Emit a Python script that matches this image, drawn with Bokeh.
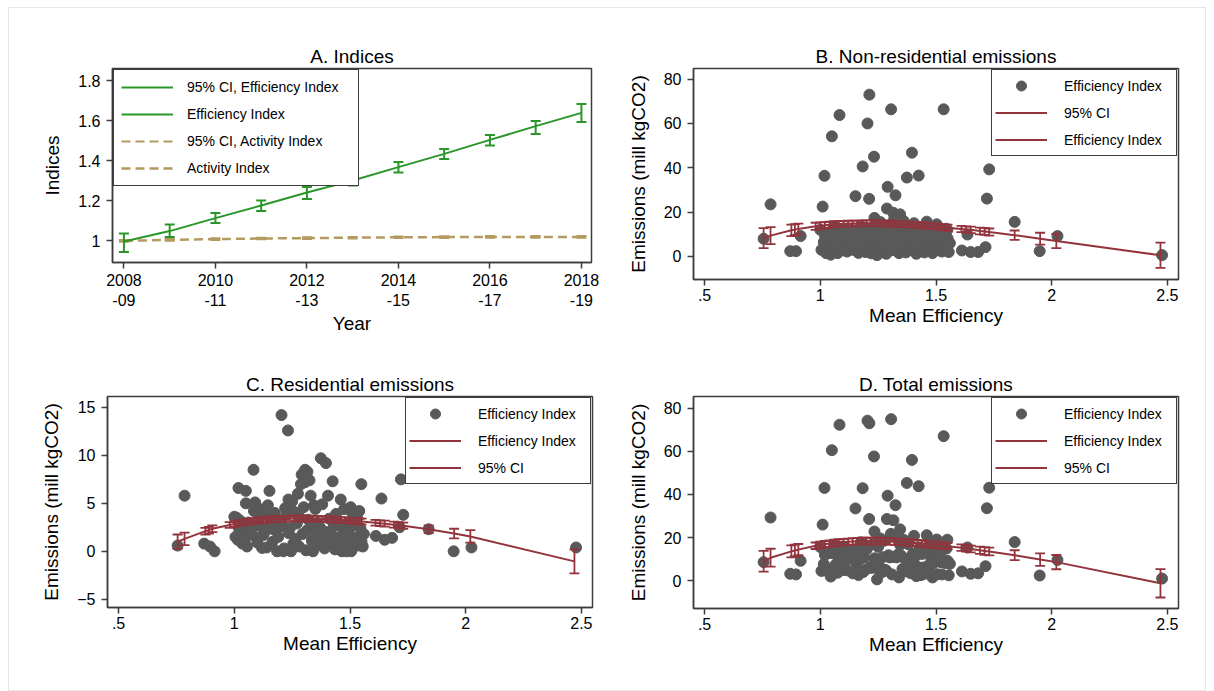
from bokeh.plotting import figure
from bokeh.layouts import column, row
from bokeh.models import Legend, LegendItem, FixedTicker, ColumnDataSource, Range1d
from bokeh.embed import file_html
from bokeh.resources import INLINE

# ---------------- data: panel A ----------------
years = [2008, 2009, 2010, 2011, 2012, 2013, 2014, 2015, 2016, 2017, 2018]
year_ticks = [2008, 2010, 2012, 2014, 2016, 2018]
year_tick_labels = ["2008\n-09", "2010\n-11", "2012\n-13", "2014\n-15", "2016\n-17", "2018\n-19"]
eff_index = [0.995, 1.047, 1.112, 1.175, 1.240, 1.300, 1.367, 1.433, 1.503, 1.572, 1.638]
eff_lo = [0.942, 1.017, 1.087, 1.147, 1.208, 1.275, 1.340, 1.408, 1.475, 1.533, 1.592]
eff_hi = [1.035, 1.080, 1.137, 1.200, 1.267, 1.325, 1.393, 1.457, 1.527, 1.598, 1.683]
act_index = [0.998, 1.003, 1.007, 1.010, 1.012, 1.014, 1.016, 1.017, 1.018, 1.018, 1.018]
act_lo = [0.994, 0.999, 1.003, 1.006, 1.008, 1.010, 1.012, 1.013, 1.014, 1.014, 1.014]
act_hi = [1.002, 1.007, 1.011, 1.014, 1.016, 1.018, 1.020, 1.021, 1.022, 1.022, 1.022]
a_yticks = [1, 1.2, 1.4, 1.6, 1.8]
a_ytick_labels = ["1", "1.2", "1.4", "1.6", "1.8"]

# ---------------- data: panels B, C, D (scatter) ----------------
mean_eff = [0.755, 0.785, 0.870, 0.895, 0.915, 1.010, 1.018, 1.050, 1.083, 1.212,
            1.204, 1.232, 1.183, 1.152, 1.211, 1.306, 1.291, 1.325, 1.396, 1.374,
            1.425, 1.533, 1.730, 1.720, 1.840, 1.948, 2.025, 2.477, 1.636, 1.612,
            1.650, 1.682, 1.714, 1.234, 1.288, 1.316, 1.345, 1.460, 1.503, 1.549,
            1.120, 1.000, 1.005, 1.015, 1.020, 1.025, 1.035, 1.040, 1.045, 1.050,
            1.055, 1.060, 1.065, 1.070, 1.075, 1.085, 1.090, 1.095, 1.100, 1.105,
            1.110, 1.115, 1.125, 1.130, 1.135, 1.140, 1.145, 1.155, 1.160, 1.165,
            1.170, 1.175, 1.185, 1.190, 1.195, 1.200, 1.215, 1.220, 1.225, 1.235,
            1.240, 1.245, 1.250, 1.255, 1.260, 1.265, 1.270, 1.275, 1.280, 1.285,
            1.295, 1.300, 1.305, 1.310, 1.315, 1.320, 1.330, 1.335, 1.340, 1.345,
            1.350, 1.355, 1.360, 1.365, 1.370, 1.380, 1.385, 1.390, 1.400, 1.405,
            1.410, 1.415, 1.420, 1.430, 1.435, 1.440, 1.445, 1.450, 1.455, 1.465,
            1.470, 1.475, 1.480, 1.485, 1.490, 1.495, 1.500, 1.505, 1.510, 1.515,
            1.520, 1.525, 1.530, 1.535, 1.540, 1.545, 1.550, 1.555, 1.560]
nonres_em = [8.0, 23.5, 2.4, 2.4, 9.2, 22.5, 36.4, 54.2, 63.8, 73.0,
             60.0, 45.0, 40.6, 27.2, 26.0, 66.4, 31.4, 27.6, 46.8, 35.6,
             36.5, 66.4, 39.3, 26.1, 15.6, 2.4, 9.2, 0.6, 9.9, 2.7,
             2.0, 2.0, 4.2, 17.4, 21.6, 19.7, 19.0, 15.7, 14.5, 12.0,
             10.0, 12.0, 3.0, 6.5, 9.5, 1.5, 4.5, 11.0, 0.8, 7.8,
             2.8, 13.5, 5.5, 9.0, 1.5, 11.5, 6.0, 3.5, 8.5, 12.5,
             4.8, 2.2, 9.8, 6.8, 12.0, 3.0, 8.2, 5.0, 10.8, 1.6,
             7.5, 13.8, 4.0, 9.2, 2.0, 11.8, 6.0, 1.4, 13.0, 8.5,
             3.5, 0.6, 10.5, 5.8, 15.5, 2.5, 8.0, 12.5, 4.5, 1.2,
             10.0, 6.2, 14.5, 2.8, 8.8, 17.5, 5.0, 11.0, 1.5, 14.0,
             7.2, 3.8, 16.0, 9.5, 1.8, 12.0, 6.5, 3.2, 10.5, 15.0,
             7.8, 1.2, 4.8, 12.8, 2.4, 8.5, 5.5, 1.8, 11.0, 6.8,
             3.5, 13.5, 9.0, 1.5, 5.2, 11.8, 7.5, 3.0, 13.0, 9.5,
             5.8, 2.2, 10.8, 7.0, 4.0, 12.5, 8.2, 2.0, 6.0]
res_em = [0.6, 5.8, 0.8, 0.5, 0.0, 3.5, 6.6, 6.3, 8.5, 0.0,
          14.2, 12.6, 2.3, 6.3, 2.6, 8.5, 8.0, 7.4, 9.2, 9.7,
          7.3, 0.6, 3.8, 7.5, 2.3, 0.0, 0.4, 0.4, 5.5, 1.6,
          1.2, 1.4, 2.5, 5.4, 7.0, 8.3, 4.8, 5.4, 4.6, 7.0,
          0.35, 3.6, 1.5, 1.2, 2.4, 3.2, 0.8, 2.0, 1.1, 5.0,
          0.5, 3.0, 1.8, 2.8, 2.2, 4.2, 5.1, 1.4, 0.9, 3.3,
          4.4, 2.6, 1.7, 3.9, 2.1, 0.4, 4.8, 2.9, 3.6, 1.0,
          2.3, 4.0, 0.0, 1.5, 3.1, 2.7, 0.3, 4.5, 3.8, 1.9,
          2.4, 0.0, 5.2, 0.8, 4.1, 1.3, 2.9, 6.0, 0.5, 3.5,
          1.8, 4.6, 7.2, 0.1, 2.2, 3.3, 5.8, 1.1, 0.0, 2.6,
          4.4, 1.6, 3.0, 0.7, 2.5, 4.9, 1.2, 0.3, 2.0, 5.8,
          3.4, 0.9, 1.7, 2.6, 0.2, 3.9, 0.6, 1.4, 2.9, 0.0,
          2.3, 4.4, 1.0, 0.0, 3.0, 1.9, 2.5, 0.0, 4.0, 1.2,
          2.8, 0.7, 3.5, 1.5, 4.2, 2.4, 1.0, 0.5, 1.8]
total_em = [8.6, 29.3, 3.2, 2.9, 9.2, 26.0, 43.0, 60.5, 72.3, 73.0,
            74.2, 57.6, 42.9, 33.5, 28.6, 74.9, 39.4, 35.0, 56.0, 45.3,
            43.8, 67.0, 43.1, 33.6, 17.9, 2.4, 9.6, 1.0, 15.4, 4.3,
            3.2, 3.4, 6.7, 22.8, 28.6, 28.0, 23.8, 21.1, 19.1, 19.0,
            10.4, 15.6, 4.5, 7.7, 11.9, 4.7, 5.3, 13.0, 1.9, 12.8,
            3.3, 16.5, 7.3, 11.8, 3.7, 15.7, 11.1, 4.9, 9.4, 15.8,
            9.2, 4.8, 11.5, 10.7, 14.1, 3.4, 13.0, 7.9, 14.4, 2.6,
            9.8, 17.8, 4.0, 10.7, 5.1, 14.5, 6.3, 5.9, 16.8, 10.4,
            5.9, 0.6, 15.7, 6.6, 19.6, 3.8, 10.9, 18.5, 5.0, 4.7,
            11.8, 10.8, 21.7, 2.9, 11.0, 20.8, 10.8, 12.1, 1.5, 16.6,
            11.6, 5.4, 19.0, 10.2, 4.3, 16.9, 7.7, 3.5, 12.5, 20.8,
            11.2, 2.1, 6.5, 15.4, 2.6, 12.4, 6.1, 3.2, 13.9, 6.8,
            5.8, 17.9, 10.0, 1.5, 8.2, 13.7, 10.0, 3.0, 17.0, 10.7,
            8.6, 2.9, 14.3, 8.5, 8.2, 14.9, 9.2, 2.5, 7.8]

# ---------------- data: fitted values with 95% CI ----------------
fit_x = [0.755, 0.785, 0.875, 0.89, 0.905, 0.98,
         1.0, 1.02, 1.04, 1.06, 1.08, 1.1, 1.12, 1.14, 1.16, 1.18, 1.2, 1.22, 1.24, 1.26,
         1.28, 1.3, 1.32, 1.34, 1.36, 1.38, 1.4, 1.42, 1.44, 1.46, 1.48, 1.5, 1.52, 1.54,
         1.55, 1.61, 1.63, 1.65, 1.69, 1.71, 1.73, 1.84, 1.95, 2.02, 2.47]
fit_nonres = [8.3, 9.4, 11.8, 12.1, 12.4, 13.6,
              13.9, 14.1, 14.3, 14.5, 14.6, 14.7, 14.8, 14.9, 14.9, 15.0, 15.0, 15.0, 15.0, 14.9,
              14.9, 14.8, 14.7, 14.6, 14.5, 14.4, 14.3, 14.2, 14.0, 13.9, 13.7, 13.5, 13.3, 13.1,
              13.0, 12.4, 12.2, 12.0, 11.5, 11.3, 11.0, 9.6, 8.0, 7.0, 0.5]
nonres_lo = [3.8, 5.6, 9.2, 9.6, 10.0, 12.0,
             12.4, 12.7, 12.9, 13.1, 13.3, 13.4, 13.5, 13.6, 13.6, 13.7, 13.7, 13.7, 13.7, 13.6,
             13.6, 13.5, 13.4, 13.3, 13.2, 13.1, 13.0, 12.9, 12.7, 12.6, 12.4, 12.2, 12.0, 11.8,
             11.6, 11.0, 10.8, 10.5, 10.0, 9.7, 9.4, 7.5, 5.3, 3.8, -5.2]
nonres_hi = [12.8, 13.2, 14.4, 14.6, 14.8, 15.2,
             15.4, 15.5, 15.7, 15.9, 15.9, 16.0, 16.1, 16.2, 16.2, 16.3, 16.3, 16.3, 16.3, 16.2,
             16.2, 16.1, 16.0, 15.9, 15.8, 15.7, 15.6, 15.5, 15.3, 15.2, 15.0, 14.8, 14.6, 14.4,
             14.4, 13.8, 13.6, 13.5, 13.0, 12.9, 12.6, 11.7, 10.7, 10.2, 6.2]
fit_res = [1.0, 1.3, 2.1, 2.2, 2.35, 2.75,
           2.85, 2.95, 3.0, 3.08, 3.15, 3.2, 3.25, 3.3, 3.33, 3.36, 3.38, 3.4, 3.41, 3.42,
           3.42, 3.42, 3.41, 3.4, 3.39, 3.37, 3.35, 3.33, 3.3, 3.27, 3.24, 3.2, 3.16, 3.12,
           3.1, 2.98, 2.93, 2.88, 2.78, 2.72, 2.67, 2.3, 1.85, 1.55, -1.05]
res_lo = [0.25, 0.65, 1.75, 1.85, 2.0, 2.45,
          2.55, 2.65, 2.7, 2.78, 2.85, 2.9, 2.95, 3.0, 3.03, 3.06, 3.08, 3.1, 3.11, 3.12,
          3.12, 3.12, 3.11, 3.1, 3.09, 3.07, 3.05, 3.03, 3.0, 2.97, 2.94, 2.9, 2.86, 2.82,
          2.8, 2.68, 2.63, 2.57, 2.46, 2.4, 2.35, 1.9, 1.35, 0.9, -2.3]
res_hi = [1.75, 1.95, 2.45, 2.55, 2.7, 3.05,
          3.15, 3.25, 3.3, 3.38, 3.45, 3.5, 3.55, 3.6, 3.63, 3.66, 3.68, 3.7, 3.71, 3.72,
          3.72, 3.72, 3.71, 3.7, 3.69, 3.67, 3.65, 3.63, 3.6, 3.57, 3.54, 3.5, 3.46, 3.42,
          3.4, 3.28, 3.23, 3.19, 3.1, 3.04, 2.99, 2.7, 2.35, 2.2, 0.2]
fit_total = [9.0, 10.6, 13.6, 14.0, 14.4, 16.2,
             16.6, 16.9, 17.2, 17.5, 17.7, 17.9, 18.0, 18.2, 18.3, 18.4, 18.4, 18.4, 18.4, 18.4,
             18.3, 18.2, 18.1, 18.0, 17.9, 17.7, 17.6, 17.4, 17.2, 17.0, 16.8, 16.6, 16.4, 16.1,
             16.0, 15.3, 15.0, 14.7, 14.1, 13.8, 13.5, 11.8, 9.8, 8.6, -1.2]
total_lo = [4.2, 6.5, 10.8, 11.3, 11.8, 14.7,
            15.1, 15.4, 15.7, 16.0, 16.2, 16.4, 16.5, 16.7, 16.8, 16.9, 16.9, 16.9, 16.9, 16.9,
            16.8, 16.7, 16.6, 16.5, 16.4, 16.2, 16.1, 15.9, 15.7, 15.5, 15.3, 15.1, 14.9, 14.6,
            14.5, 13.8, 13.5, 13.1, 12.4, 12.0, 11.7, 9.5, 6.9, 5.3, -7.8]
total_hi = [13.8, 14.8, 16.4, 16.7, 17.0, 17.7,
            18.1, 18.4, 18.7, 19.0, 19.2, 19.4, 19.5, 19.7, 19.8, 19.9, 19.9, 19.9, 19.9, 19.9,
            19.8, 19.7, 19.6, 19.5, 19.4, 19.2, 19.1, 18.9, 18.7, 18.5, 18.3, 18.1, 17.9, 17.6,
            17.5, 16.8, 16.5, 16.3, 15.8, 15.6, 15.3, 14.1, 12.7, 11.9, 5.4]

eff_xticks = [0.5, 1, 1.5, 2, 2.5]
eff_xtick_labels = [".5", "1", "1.5", "2", "2.5"]
em_yticks = [0, 20, 40, 60, 80]
res_yticks = [-5, 0, 5, 10, 15]

# ---------------- styling ----------------
FONT = "Liberation Sans"
AXC = "#3c3c3c"
GREEN = "#2a962a"
KHAKI = "#b39b60"
RED = "#93343d"
GRAY = "#595959"


def base_fig(title, fw, fh, bl, br, bt, bb, xr, yr, xlabel, ylabel):
    p = figure(frame_width=fw, frame_height=fh, min_border_left=bl, min_border_right=br,
               min_border_top=bt, min_border_bottom=bb,
               x_range=Range1d(*xr), y_range=Range1d(*yr),
               output_backend="svg", toolbar_location=None, title=title,
               x_axis_label=xlabel, y_axis_label=ylabel)
    p.title.text_font = FONT
    p.title.text_font_size = "19px"
    p.title.text_font_style = "normal"
    p.title.text_color = "black"
    p.title.align = "center"
    p.title.standoff = 3
    p.outline_line_color = AXC
    p.outline_line_width = 1.5
    p.outline_line_alpha = 1.0
    p.xgrid.visible = False
    p.ygrid.visible = False
    p.background_fill_color = "white"
    p.border_fill_color = "white"
    for ax in (p.xaxis[0], p.yaxis[0]):
        ax.axis_line_color = AXC
        ax.axis_line_width = 1.5
        ax.major_tick_line_color = AXC
        ax.major_tick_line_width = 1.5
        ax.major_tick_out = 6
        ax.major_tick_in = 0
        ax.minor_tick_line_color = None
        ax.major_label_text_font = FONT
        ax.major_label_text_font_size = "16px"
        ax.major_label_text_color = "black"
        ax.axis_label_text_font = FONT
        ax.axis_label_text_font_size = "19px"
        ax.axis_label_text_font_style = "normal"
        ax.axis_label_text_color = "black"
    p.xaxis[0].major_label_standoff = 3
    p.xaxis[0].axis_label_standoff = 1
    p.yaxis[0].major_label_standoff = 6
    p.yaxis[0].axis_label_standoff = 12
    return p


def add_legend(p, items, location, padding, glyph_h, spacing, standoff, label_w):
    leg = Legend(items=items, location=location, margin=1, padding=padding, spacing=spacing,
                 glyph_width=52, glyph_height=glyph_h, label_height=glyph_h,
                 label_standoff=standoff, label_width=label_w,
                 label_text_font=FONT, label_text_font_size="14px", label_text_color="black",
                 border_line_color=AXC, border_line_width=1.2, border_line_alpha=1.0,
                 background_fill_color="white", background_fill_alpha=1.0)
    p.add_layout(leg)


# ---------------- panel A ----------------
pA = base_fig("A. Indices", 479, 194, 103, 22, 59, 79, (2007.75, 2018.22), (0.89, 1.86),
              "Year", "Indices")
srcA = ColumnDataSource(dict(year=years, eff=eff_index, eff_lo=eff_lo, eff_hi=eff_hi,
                             act=act_index, act_lo=act_lo, act_hi=act_hi))
act_line = pA.line("year", "act", source=srcA, line_color=KHAKI, line_width=2.5, line_dash="9 5")
act_ci = pA.segment("year", "act_lo", "year", "act_hi", source=srcA, line_color=KHAKI,
                    line_width=2, line_dash="9 5")
pA.scatter("year", "act_lo", source=srcA, marker="dash", size=10, line_color=KHAKI, line_width=2)
pA.scatter("year", "act_hi", source=srcA, marker="dash", size=10, line_color=KHAKI, line_width=2)
eff_line = pA.line("year", "eff", source=srcA, line_color=GREEN, line_width=2)
eff_ci = pA.segment("year", "eff_lo", "year", "eff_hi", source=srcA, line_color=GREEN, line_width=2)
pA.scatter("year", "eff_lo", source=srcA, marker="dash", size=10, line_color=GREEN, line_width=2)
pA.scatter("year", "eff_hi", source=srcA, marker="dash", size=10, line_color=GREEN, line_width=2)
pA.xaxis[0].ticker = FixedTicker(ticks=year_ticks)
pA.xaxis[0].major_label_overrides = dict(zip(year_ticks, year_tick_labels))
pA.yaxis[0].ticker = FixedTicker(ticks=a_yticks)
pA.yaxis[0].major_label_overrides = dict(zip(a_yticks, a_ytick_labels))
add_legend(pA, [LegendItem(label="95% CI, Efficiency Index", renderers=[eff_ci]),
                LegendItem(label="Efficiency Index", renderers=[eff_line]),
                LegendItem(label="95% CI, Activity Index", renderers=[act_ci]),
                LegendItem(label="Activity Index", renderers=[act_line])],
           "top_left", 7, 20, 7, 14, 164)


# ---------------- panels B, C, D ----------------
def emission_panel(title, bl, br, bt, bh, bb, yr, yvals, fit, lo, hi, yticks, labels):
    p = base_fig(title, 485, bh, bl, br, bt, bb, (0.452, 2.548), yr,
                 "Mean Efficiency", "Emissions (mill kgCO2)")
    src = ColumnDataSource(dict(x=mean_eff, y=yvals))
    fsrc = ColumnDataSource(dict(x=fit_x, fit=fit, lo=lo, hi=hi))
    sc = p.scatter("x", "y", source=src, size=11, fill_color=GRAY, line_color=GRAY)
    fl = p.line("x", "fit", source=fsrc, line_color=RED, line_width=2)
    ci = p.segment("x", "lo", "x", "hi", source=fsrc, line_color=RED, line_width=1.8)
    p.scatter("x", "lo", source=fsrc, marker="dash", size=10, line_color=RED, line_width=1.8)
    p.scatter("x", "hi", source=fsrc, marker="dash", size=10, line_color=RED, line_width=1.8)
    p.xaxis[0].ticker = FixedTicker(ticks=eff_xticks)
    p.xaxis[0].major_label_overrides = dict(zip(eff_xticks, eff_xtick_labels))
    p.yaxis[0].ticker = FixedTicker(ticks=yticks)
    rends = {"scatter": sc, "ci": ci, "line": fl}
    items = [LegendItem(label=lab, renderers=[rends[k]]) for k, lab in labels]
    add_legend(p, items, "top_right", 3, 25, 2, 17, 109)
    return p


pB = emission_panel("B. Non-residential emissions", 80, 27, 60, 211, 61, (-10.4, 84.8),
                    nonres_em, fit_nonres, nonres_lo, nonres_hi, em_yticks,
                    [("scatter", "Efficiency Index"), ("ci", "95% CI"), ("line", "Efficiency Index")])
pC = emission_panel("C. Residential emissions", 98, 21, 56, 211, 83, (-5.86, 16.14),
                    res_em, fit_res, res_lo, res_hi, res_yticks,
                    [("scatter", "Efficiency Index"), ("ci", "Efficiency Index"), ("line", "95% CI")])
pD = emission_panel("D. Total emissions", 80, 27, 55, 212, 83, (-12.9, 85.4),
                    total_em, fit_total, total_lo, total_hi, em_yticks,
                    [("scatter", "Efficiency Index"), ("ci", "Efficiency Index"), ("line", "95% CI")])

layout = column(row(pA, pB), row(pC, pD), margin=(8, 0, 0, 9),
                styles={"outline": "1px solid #e2e7ea"})
open("out.html", "w").write(file_html(layout, INLINE, title="Indices and emissions"))
